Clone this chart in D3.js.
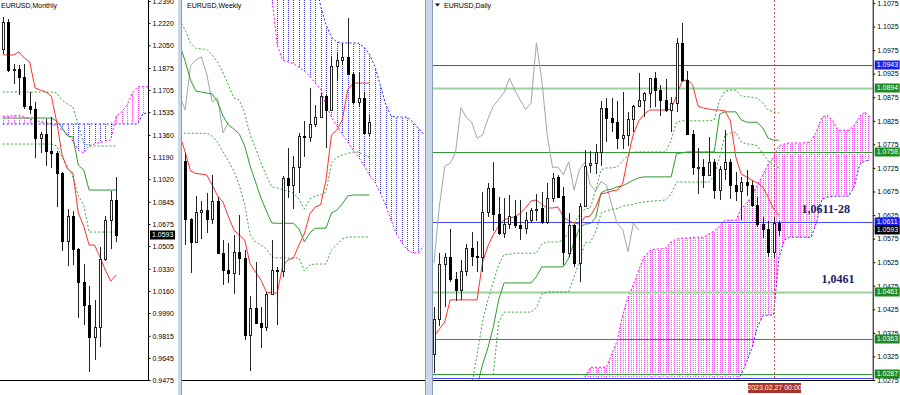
<!DOCTYPE html>
<html>
<head>
<meta charset="utf-8">
<title>EURUSD Monthly / Weekly / Daily</title>
<script src="https://cdn.jsdelivr.net/npm/d3@7"></script>
<style>
  body { margin: 0; background: #fff; }
  svg text { font-family: "Liberation Sans", Arial, sans-serif; font-size: 7px; fill: #000; }
  .note { font-family: "Liberation Serif", "Times New Roman", serif; font-size: 12px; font-weight: bold; fill: #1c1c64; }
</style>
</head>
<body>
<svg id="chart" width="900" height="395"></svg>
<script>
// ---- Monthly, May 2021 .. Feb 2023 (index 0 = May 2021) ----
const monthlyOHLC = [
  [1.2020, 1.2266, 1.1986, 1.2227], [1.2227, 1.2254, 1.1847, 1.1858], [1.1858, 1.1909, 1.1752, 1.1870],
  [1.1870, 1.1900, 1.1664, 1.1807], [1.1807, 1.1909, 1.1563, 1.1579], [1.1579, 1.1692, 1.1524, 1.1558],
  [1.1558, 1.1616, 1.1186, 1.1338], [1.1338, 1.1386, 1.1222, 1.1370], [1.1370, 1.1483, 1.1121, 1.1234],
  [1.1234, 1.1495, 1.1106, 1.1218], [1.1218, 1.1233, 1.0806, 1.1067], [1.1067, 1.1076, 1.0471, 1.0545],
  [1.0545, 1.0787, 1.0349, 1.0733], [1.0733, 1.0774, 1.0359, 1.0484], [1.0484, 1.0487, 0.9952, 1.0226],
  [1.0226, 1.0369, 0.9901, 1.0054], [1.0054, 1.0198, 0.9536, 0.9802], [0.9802, 1.0094, 0.9632, 0.9884],
  [0.9884, 1.0497, 0.9730, 1.0405], [1.0405, 1.0736, 1.0393, 1.0705], [1.0705, 1.0929, 1.0483, 1.0863],
  [1.0863, 1.1033, 1.0533, 1.0593]
];
const monthlyTenkan = [1.1975, 1.1975, 1.1975, 1.1998, 1.1952, 1.1921, 1.1721, 1.1705, 1.1690, 1.1659, 1.1459,
  1.1205, 1.1098, 1.1067, 1.0759, 1.0659, 1.0513, 1.0513, 1.0421, 1.0321, 1.0236, 1.0282];
const monthlyKijun = [1.1490, 1.1490, 1.1490, 1.1490, 1.1490, 1.1490, 1.1490, 1.1490, 1.1490, 1.1490, 1.1467,
  1.1413, 1.1352, 1.1344, 1.1128, 1.1090, 1.0936, 1.0936, 1.0936, 1.0936, 1.0936, 1.0936];
const monthlyDashUp = [1.1690, 1.1690, 1.1690, 1.1690, 1.1690, 1.1690, 1.1690, 1.1690, 1.1690, 1.1690, 1.1682,
  1.1628, 1.1598, 1.1575, 1.1436, 1.1298, 1.1275, 1.1275, 1.1275, 1.1275, 1.1275, 1.1275];
const monthlyDashLow = [1.1290, 1.1290, 1.1290, 1.1290, 1.1290, 1.1290, 1.1290, 1.1290, 1.1290, 1.1290, 1.1275,
  1.1190, 1.1113, 1.1036, 1.0890, 1.0821, 1.0613, 1.0613, 1.0613, 1.0613, 1.0613, 1.0613];
const monthlySpanA = [1.1502, 1.1505, 1.1508, 1.1512, 1.1498, 1.1482, 1.1471, 1.1463, 1.1455, 1.1444, 1.1428,
  1.1398, 1.1367, 1.1313, 1.1244, 1.1221, 1.1275, 1.1290, 1.1302, 1.1313, 1.1321, 1.1505, 1.1536, 1.1590,
  1.1682, 1.1731, 1.1731, 1.1731];
const monthlySpanB = [1.1444, 1.1444, 1.1444, 1.1444, 1.1444, 1.1444, 1.1444, 1.1444, 1.1444, 1.1444, 1.1444,
  1.1444, 1.1444, 1.1444, 1.1444, 1.1444, 1.1444, 1.1444, 1.1444, 1.1444, 1.1444, 1.1444, 1.1444, 1.1444,
  1.1444, 1.1444, 1.1526, 1.1526];
const monthlyPriceTicks = [1.2390, 1.2220, 1.2050, 1.1875, 1.1705, 1.1535, 1.1360, 1.1190, 1.1020, 1.0845,
  1.0675, 1.0505, 1.0330, 1.0160, 0.9990, 0.9815, 0.9645, 0.9475];
const monthlyTickIdx = [-2, 6, 14];
const monthlyTickText = ['1 Mar 2021', '1 Nov 2021', '1 Jul 2022'];

// ---- Weekly, week of 26 Jun 2022 .. 26 Feb 2023 (index 0 = 29 Jan 2023) ----
const weeklyStart = -31;
const weeklyOHLC = [
  [1.0555, 1.0615, 1.0366, 1.0427], [1.0427, 1.0463, 1.0072, 1.0181], [1.0181, 1.0185, 0.9952, 1.0082],
  [1.0082, 1.0279, 1.0080, 1.0212], [1.0212, 1.0258, 1.0097, 1.0220], [1.0220, 1.0293, 1.0123, 1.0182],
  [1.0182, 1.0368, 1.0160, 1.0259], [1.0259, 1.0275, 1.0033, 1.0037], [1.0037, 1.0090, 0.9900, 0.9965],
  [0.9965, 1.0079, 0.9910, 0.9954], [0.9954, 1.0114, 0.9864, 1.0040], [1.0040, 1.0198, 0.9945, 1.0015],
  [1.0015, 1.0051, 0.9668, 0.9689], [0.9689, 0.9853, 0.9536, 0.9802], [0.9802, 0.9999, 0.9737, 0.9740],
  [0.9740, 0.9808, 0.9632, 0.9722], [0.9722, 0.9873, 0.9705, 0.9862], [0.9862, 1.0094, 0.9860, 0.9965],
  [0.9965, 0.9976, 0.9730, 0.9960], [0.9960, 1.0364, 0.9936, 1.0354], [1.0354, 1.0481, 1.0270, 1.0325],
  [1.0325, 1.0449, 1.0223, 1.0400], [1.0400, 1.0545, 1.0290, 1.0535], [1.0535, 1.0595, 1.0443, 1.0530],
  [1.0530, 1.0737, 1.0510, 1.0585], [1.0585, 1.0667, 1.0573, 1.0615], [1.0615, 1.0714, 1.0608, 1.0703],
  [1.0703, 1.0713, 1.0483, 1.0644], [1.0644, 1.0868, 1.0643, 1.0831], [1.0831, 1.0887, 1.0766, 1.0856],
  [1.0856, 1.0929, 1.0834, 1.0869], [1.0869, 1.1033, 1.0796, 1.0796], [1.0796, 1.0805, 1.0669, 1.0678],
  [1.0678, 1.0805, 1.0655, 1.0695], [1.0695, 1.0720, 1.0536, 1.0547], [1.0547, 1.0621, 1.0533, 1.0593]
];
const weeklyTenkan = [1.0538, 1.0466, 1.0385, 1.0374, 1.0372, 1.0368, 1.0325, 1.0279, 1.0253, 1.0190, 1.0135,
  1.0113, 1.0092, 0.9990, 0.9956, 0.9922, 0.9871, 0.9867, 0.9867, 0.9982, 1.0007, 1.0016, 1.0071, 1.0118,
  1.0202, 1.0232, 1.0241, 1.0347, 1.0538, 1.0559, 1.0601, 1.0729, 1.0758, 1.0758, 1.0758, 1.0758];
const weeklyKijun = [1.0920, 1.0852, 1.0771, 1.0724, 1.0720, 1.0716, 1.0712, 1.0678, 1.0618, 1.0580, 1.0563,
  1.0542, 1.0491, 1.0406, 1.0338, 1.0270, 1.0215, 1.0164, 1.0163, 1.0163, 1.0163, 1.0163, 1.0139, 1.0084,
  1.0122, 1.0142, 1.0142, 1.0142, 1.0207, 1.0219, 1.0245, 1.0279, 1.0283, 1.0283, 1.0283, 1.0283];
const weeklyDashUp = [1.1026, 1.0983, 1.0928, 1.0905, 1.0903, 1.0901, 1.0877, 1.0847, 1.0801, 1.0750, 1.0695,
  1.0686, 1.0631, 1.0538, 1.0482, 1.0419, 1.0364, 1.0317, 1.0313, 1.0306, 1.0300, 1.0291, 1.0266, 1.0224,
  1.0266, 1.0279, 1.0283, 1.0296, 1.0419, 1.0444, 1.0453, 1.0460, 1.0465, 1.0465, 1.0453, 1.0444];
const weeklyDashLow = [1.0546, 1.0545, 1.0545, 1.0545, 1.0545, 1.0545, 1.0533, 1.0508, 1.0466, 1.0427, 1.0385,
  1.0325, 1.0241, 1.0113, 1.0084, 1.0071, 1.0054, 1.0020, 1.0016, 1.0016, 1.0016, 1.0016, 1.0016, 0.9961,
  0.9986, 0.9990, 0.9990, 0.9990, 1.0050, 1.0071, 1.0096, 1.0105, 1.0105, 1.0105, 1.0105, 1.0105];
const weeklyCloudStart = -14;
const weeklySpanA = [1.1120, 1.0920, 1.0856, 1.0848, 1.0841, 1.0826, 1.0809, 1.0788, 1.0758, 1.0733, 1.0665,
  1.0614, 1.0576, 1.0542, 1.0508, 1.0474, 1.0444, 1.0410, 1.0368, 1.0338, 1.0292, 1.0241, 1.0177, 1.0118,
  1.0080, 1.0050, 1.0037, 1.0037, 1.0067];
const weeklySpanB = [1.1200, 1.1200, 1.1200, 1.1200, 1.1200, 1.1200, 1.1200, 1.1200, 1.1200, 1.1085, 1.1005,
  1.0954, 1.0932, 1.0928, 1.0928, 1.0928, 1.0927, 1.0911, 1.0881, 1.0831, 1.0750, 1.0669, 1.0618, 1.0614,
  1.0614, 1.0614, 1.0593, 1.0567, 1.0542];
const weeklyTickIdx = [-32, -24, -16, -8, 0];
const weeklyTickText = ['19 Jun 2022', '14 Aug 2022', '9 Oct 2022', '4 Dec 2022', '29 Jan 2023'];

// ---- Daily, 30 Nov 2022 .. 28 Feb 2023 (index 0 = 30 Nov 2022) ----
const dailyOHLC = [
  [1.0330, 1.0429, 1.0290, 1.0405], [1.0405, 1.0545, 1.0390, 1.0522], [1.0522, 1.0545, 1.0429, 1.0535],
  [1.0535, 1.0595, 1.0482, 1.0490], [1.0490, 1.0505, 1.0443, 1.0467], [1.0467, 1.0530, 1.0444, 1.0507],
  [1.0507, 1.0563, 1.0495, 1.0555], [1.0555, 1.0588, 1.0517, 1.0539], [1.0539, 1.0569, 1.0505, 1.0537],
  [1.0537, 1.0673, 1.0505, 1.0631], [1.0631, 1.0694, 1.0621, 1.0682], [1.0682, 1.0737, 1.0592, 1.0627],
  [1.0627, 1.0664, 1.0583, 1.0586], [1.0586, 1.0661, 1.0576, 1.0607], [1.0607, 1.0667, 1.0595, 1.0624],
  [1.0624, 1.0658, 1.0598, 1.0604], [1.0604, 1.0658, 1.0573, 1.0597], [1.0597, 1.0632, 1.0585, 1.0614],
  [1.0614, 1.0640, 1.0608, 1.0636], [1.0636, 1.0670, 1.0612, 1.0638], [1.0639, 1.0675, 1.0607, 1.0611],
  [1.0611, 1.0692, 1.0607, 1.0661], [1.0661, 1.0714, 1.0653, 1.0703], [1.0705, 1.0710, 1.0661, 1.0664],
  [1.0665, 1.0685, 1.0519, 1.0547], [1.0545, 1.0630, 1.0536, 1.0604], [1.0604, 1.0607, 1.0515, 1.0523],
  [1.0523, 1.0650, 1.0483, 1.0644], [1.0644, 1.0763, 1.0644, 1.0729], [1.0731, 1.0762, 1.0714, 1.0735],
  [1.0735, 1.0776, 1.0712, 1.0758], [1.0759, 1.0868, 1.0730, 1.0853], [1.0853, 1.0874, 1.0780, 1.0832],
  [1.0832, 1.0874, 1.0802, 1.0822], [1.0822, 1.0867, 1.0766, 1.0788], [1.0788, 1.0887, 1.0766, 1.0795],
  [1.0795, 1.0843, 1.0771, 1.0829], [1.0829, 1.0858, 1.0802, 1.0856], [1.0856, 1.0927, 1.0856, 1.0870],
  [1.0870, 1.0887, 1.0834, 1.0885], [1.0885, 1.0914, 1.0852, 1.0915], [1.0915, 1.0929, 1.0854, 1.0890],
  [1.0890, 1.0900, 1.0836, 1.0869], [1.0869, 1.0914, 1.0843, 1.0849], [1.0849, 1.0876, 1.0801, 1.0862],
  [1.0862, 1.1000, 1.0844, 1.0990], [1.0990, 1.1033, 1.0908, 1.0912], [1.0912, 1.0930, 1.0796, 1.0796],
  [1.0796, 1.0805, 1.0709, 1.0726], [1.0726, 1.0768, 1.0669, 1.0727], [1.0727, 1.0745, 1.0682, 1.0711],
  [1.0711, 1.0790, 1.0709, 1.0738], [1.0738, 1.0745, 1.0660, 1.0678], [1.0678, 1.0730, 1.0658, 1.0722],
  [1.0722, 1.0805, 1.0700, 1.0737], [1.0737, 1.0745, 1.0660, 1.0689], [1.0689, 1.0717, 1.0655, 1.0676],
  [1.0676, 1.0706, 1.0614, 1.0696], [1.0696, 1.0720, 1.0666, 1.0689], [1.0689, 1.0698, 1.0643, 1.0646],
  [1.0646, 1.0664, 1.0600, 1.0606], [1.0606, 1.0620, 1.0577, 1.0595], [1.0595, 1.0612, 1.0536, 1.0547],
  [1.0547, 1.0621, 1.0533, 1.0608], [1.0608, 1.0612, 1.0580, 1.0593]
];
const dailyTenkan = [1.0368, 1.0383, 1.0398, 1.0445, 1.0445, 1.0445, 1.0445, 1.0445, 1.0445, 1.0525,
  1.0559, 1.0583, 1.0602, 1.0615, 1.0619, 1.0621, 1.0629, 1.0640, 1.0655, 1.0657,
  1.0648, 1.0640, 1.0640, 1.0642, 1.0621, 1.0613, 1.0608, 1.0606, 1.0621, 1.0623,
  1.0642, 1.0670, 1.0672, 1.0676, 1.0678, 1.0691, 1.0748, 1.0797, 1.0825, 1.0839,
  1.0848, 1.0848, 1.0848, 1.0848, 1.0850, 1.0878, 1.0909, 1.0912, 1.0901, 1.0856,
  1.0852, 1.0850, 1.0848, 1.0848, 1.0846, 1.0825, 1.0748, 1.0712, 1.0706, 1.0699,
  1.0693, 1.0685, 1.0663, 1.0638, 1.0625];
const dailyKijun = [null, null, null, null, null, null, null, null, 1.0262, 1.0307,
  1.0343, 1.0387, 1.0445, 1.0481, 1.0481, 1.0481, 1.0481, 1.0481, 1.0481, 1.0494,
  1.0515, 1.0515, 1.0515, 1.0515, 1.0515, 1.0534, 1.0568, 1.0598, 1.0606, 1.0607,
  1.0619, 1.0672, 1.0678, 1.0680, 1.0685, 1.0687, 1.0693, 1.0699, 1.0704, 1.0706,
  1.0706, 1.0706, 1.0706, 1.0706, 1.0706, 1.0755, 1.0757, 1.0759, 1.0759, 1.0759,
  1.0759, 1.0759, 1.0759, 1.0839, 1.0844, 1.0844, 1.0844, 1.0827, 1.0822, 1.0822,
  1.0822, 1.0810, 1.0788, 1.0784, 1.0784];
const dailyDashUp = [null, null, null, null, null, null, null, 1.0265, 1.0328, 1.0398,
  1.0445, 1.0483, 1.0519, 1.0541, 1.0542, 1.0544, 1.0544, 1.0544, 1.0544, 1.0544,
  1.0564, 1.0568, 1.0568, 1.0568, 1.0572, 1.0589, 1.0608, 1.0625, 1.0638, 1.0640,
  1.0678, 1.0721, 1.0725, 1.0725, 1.0727, 1.0740, 1.0752, 1.0759, 1.0759, 1.0759,
  1.0759, 1.0759, 1.0759, 1.0759, 1.0784, 1.0822, 1.0825, 1.0825, 1.0825, 1.0825,
  1.0825, 1.0825, 1.0827, 1.0869, 1.0888, 1.0890, 1.0890, 1.0878, 1.0876, 1.0875,
  1.0873, 1.0863, 1.0848, 1.0844, 1.0842];
const dailyDashLow = [null, null, null, null, null, null, null, null, null, null,
  null, 1.0286, 1.0398, 1.0419, 1.0419, 1.0419, 1.0419, 1.0419, 1.0419, 1.0428,
  1.0457, 1.0462, 1.0462, 1.0462, 1.0462, 1.0462, 1.0494, 1.0527, 1.0566, 1.0567,
  1.0589, 1.0629, 1.0634, 1.0637, 1.0639, 1.0644, 1.0646, 1.0648, 1.0651, 1.0653,
  1.0654, 1.0655, 1.0656, 1.0657, 1.0670, 1.0695, 1.0695, 1.0695, 1.0695, 1.0695,
  1.0695, 1.0695, 1.0708, 1.0748, 1.0795, 1.0799, 1.0801, 1.0780, 1.0776, 1.0775,
  1.0772, 1.0755, 1.0740, 1.0729, 1.0725];
const dailyCloudStart = 28;
const dailySpanA = [1.0281, 1.0302, 1.0302, 1.0302, 1.0302, 1.0330, 1.0358, 1.0413, 1.0451, 1.0477,
  1.0508, 1.0536, 1.0549, 1.0553, 1.0553, 1.0555, 1.0568, 1.0574, 1.0576, 1.0576,
  1.0578, 1.0578, 1.0578, 1.0585, 1.0591, 1.0602, 1.0614, 1.0614, 1.0614, 1.0638,
  1.0651, 1.0665, 1.0689, 1.0710, 1.0733, 1.0748, 1.0772, 1.0776, 1.0778, 1.0778,
  1.0778, 1.0778, 1.0782, 1.0803, 1.0833, 1.0837, 1.0825, 1.0805, 1.0805, 1.0805,
  1.0816, 1.0835, 1.0844, 1.0831];
const dailySpanB = [1.0240, 1.0240, 1.0240, 1.0240, 1.0240, 1.0240, 1.0240, 1.0240, 1.0240, 1.0240,
  1.0240, 1.0240, 1.0240, 1.0240, 1.0240, 1.0240, 1.0240, 1.0240, 1.0240, 1.0240,
  1.0240, 1.0240, 1.0240, 1.0240, 1.0240, 1.0240, 1.0240, 1.0240, 1.0271, 1.0286,
  1.0313, 1.0343, 1.0387, 1.0411, 1.0413, 1.0413, 1.0534, 1.0572, 1.0578, 1.0578,
  1.0578, 1.0578, 1.0578, 1.0610, 1.0659, 1.0663, 1.0665, 1.0665, 1.0665, 1.0665,
  1.0687, 1.0733, 1.0740, 1.0742];
const dailyPriceTicks = [1.1075, 1.1025, 1.0975, 1.0925, 1.0875, 1.0825, 1.0775, 1.0725, 1.0675,
  1.0625, 1.0575, 1.0525, 1.0475, 1.0425, 1.0375, 1.0325, 1.0275];
const dailyTickIdx = [0, 8, 16, 24, 32, 40, 48, 56, 64];
const dailyTickText = ['30 Nov 2022', '12 Dec 2022', '22 Dec 2022', '3 Jan 2023', '13 Jan 2023',
  '25 Jan 2023', '6 Feb 2023', '16 Feb 2023', '28 Feb 2023'];
const dailyLevels = [1.0943, 1.0894, 1.0758, 1.0611, 1.0461, 1.0363, 1.0287, 1.0279];
const dailyLevelKind = ['blue', 'light', 'green', 'blue', 'light', 'green', 'green', 'blue'];
const dailyBoxValues = [1.0943, 1.0894, 1.0758, 1.0611, 1.0593, 1.0461, 1.0363, 1.0287];
const dailyBoxKind = ['blue', 'green', 'green', 'blue', 'black', 'green', 'green', 'green'];
const dailyMarkerIdx = 63;
const dailyMarkerText = '2023.02.27 00:00';
const dailyNotes = [{ text: '1,0611-28', v: 1.0611, i: 68.2 }, { text: '1,0461', v: 1.0461, i: 71.9 }];

// ---- drawing ----
const svg = d3.select('#chart');
const defs = svg.append('defs');
const fmt = d3.format('.4f');
const boxColor = { blue: '#1c1cf0', green: '#1f8a1f', black: '#000' };

function makePanel(name, xDomain, xRange, yDomain, yRange) {
  const x = d3.scaleLinear().domain(xDomain).range(xRange);
  const y = d3.scaleLinear().domain(yDomain).range(yRange);
  defs.append('clipPath').attr('id', 'clip-' + name).append('rect')
    .attr('x', xRange[0]).attr('y', 0).attr('width', xRange[1] - xRange[0]).attr('height', 380);
  const g = svg.append('g').attr('clip-path', `url(#clip-${name})`);
  return { name, x, y, g, left: xRange[0], right: xRange[1] };
}

function drawLine(p, values, start, stroke, dash) {
  const line = d3.line().defined(d => d.v != null).x(d => p.x(d.i)).y(d => p.y(d.v));
  p.g.append('path')
    .datum(values.map((v, k) => ({ i: start + k, v })))
    .attr('d', line)
    .attr('fill', 'none')
    .attr('stroke', stroke)
    .attr('stroke-width', 1)
    .attr('stroke-dasharray', dash || null);
}

// cloud: dotted vertical hatch lines, clipped to the area between span A and span B
function drawCloud(p, spanA, spanB, start, perBar) {
  const pts = spanA.map((a, k) => ({ i: start + k, a, b: spanB[k] }));
  const hatchX = d3.range(0, (spanA.length - 1) * perBar + 1).map(k => start + k / perBar);
  const kinds = [
    { id: 'up', color: '#ff4cff', y0: d => p.y(d.b) },
    { id: 'dn', color: '#3c3cff', y0: d => p.y(d.a) }
  ];
  kinds.forEach(kd => {
    const area = d3.area().x(d => p.x(d.i)).y0(kd.y0).y1(d => p.y(Math.max(d.a, d.b)));
    const cid = `cl-${kd.id}-${p.name}`;
    defs.append('clipPath').attr('id', cid).append('path').attr('d', area(pts));
    p.g.append('g').attr('clip-path', `url(#${cid})`).attr('shape-rendering', 'crispEdges')
      .selectAll('line').data(hatchX).join('line')
      .attr('x1', d => Math.round(p.x(d)) + 0.5).attr('x2', d => Math.round(p.x(d)) + 0.5)
      .attr('y1', 0).attr('y2', 380)
      .attr('stroke', kd.color).attr('stroke-dasharray', '1,1');
  });
  drawLine(p, spanA, start, '#ff00ff', '2,2');
  drawLine(p, spanB, start, '#2020ff', '2,2');
}

function drawCandles(p, ohlc, start) {
  const data = ohlc.map((d, k) => ({ i: start + k, o: d[0], h: d[1], l: d[2], c: d[3] }));
  const cx = d => Math.round(p.x(d.i)) + 0.5;
  const c = p.g.append('g').attr('shape-rendering', 'crispEdges')
    .selectAll('g').data(data).join('g');
  c.append('line')
    .attr('x1', cx).attr('x2', cx)
    .attr('y1', d => Math.round(p.y(d.h))).attr('y2', d => Math.round(p.y(d.l)))
    .attr('stroke', '#222');
  c.append('rect')
    .attr('x', d => cx(d) - 1)
    .attr('width', 2)
    .attr('y', d => Math.round(p.y(Math.max(d.o, d.c))) + 0.5)
    .attr('height', d => Math.max(1, Math.round(p.y(Math.min(d.o, d.c))) - Math.round(p.y(Math.max(d.o, d.c)))))
    .attr('fill', d => d.c >= d.o ? '#fff' : '#000')
    .attr('stroke', d => d.c >= d.o ? '#222' : '#000');
}

function drawDateAxis(p, idx, labels, clipLeft, clipRight) {
  defs.append('clipPath').attr('id', 'dclip-' + p.name).append('rect')
    .attr('x', clipLeft).attr('y', 375).attr('width', clipRight - clipLeft).attr('height', 20);
  const ax = svg.append('g')
    .attr('clip-path', `url(#dclip-${p.name})`)
    .attr('transform', 'translate(0,380.5)')
    .call(d3.axisBottom(p.x).tickValues(idx).tickFormat((d, k) => labels[k]).tickSize(3).tickPadding(1));
  ax.select('.domain').remove();
  ax.selectAll('text').attr('text-anchor', 'start').attr('dx', '-0.5');
  svg.append('line').attr('x1', p.left).attr('x2', p.right + 0.5)
    .attr('y1', 380.5).attr('y2', 380.5).attr('stroke', '#000');
}

function drawPriceAxis(p, ticks) {
  const ax = svg.append('g')
    .attr('transform', `translate(${p.right + 0.5},0)`)
    .call(d3.axisRight(p.y).tickValues(ticks).tickFormat(fmt).tickSize(2).tickPadding(2));
  ax.select('.domain').remove();
  svg.append('line').attr('x1', p.right + 0.5).attr('x2', p.right + 0.5)
    .attr('y1', 0).attr('y2', 380.5).attr('stroke', '#000');
}

function drawBox(p, v, kind) {
  const yy = Math.round(p.y(v));
  svg.append('rect').attr('x', p.right + 2).attr('y', yy - 4.5).attr('width', 25).attr('height', 9)
    .attr('fill', boxColor[kind]);
  svg.append('text').attr('x', p.right + 4).attr('y', yy).attr('dy', '0.34em')
    .style('fill', '#fff').text(fmt(v));
}

// Monthly panel
const pm = makePanel('m', [-0.5, 26.9], [0, 148], [0.9475, 1.2390], [380, 1]);
drawCloud(pm, monthlySpanA, monthlySpanB, 0, 1);
drawLine(pm, monthlyDashUp, 0, '#3aa53a', '2,2');
drawLine(pm, monthlyDashLow, 0, '#3aa53a', '2,2');
drawLine(pm, monthlyKijun, 0, '#2e9a2e');
drawLine(pm, monthlyTenkan, 0, '#ff3030');
drawCandles(pm, monthlyOHLC, 0);
drawPriceAxis(pm, monthlyPriceTicks);
drawDateAxis(pm, monthlyTickIdx, monthlyTickText, 0, 148);
drawBox(pm, monthlyOHLC[monthlyOHLC.length - 1][3], 'black');
svg.append('text').attr('x', 1).attr('y', 8).text('EURUSD,Monthly');

// Weekly panel
const pw = makePanel('w', [-30.6, 14.2], [181.85, 424.66], [0.9536, 1.1033], [371, 18.3]);
drawCloud(pw, weeklySpanA, weeklySpanB, weeklyCloudStart, 1);
const weeklyCloses = weeklyOHLC.map(d => d[3]);
drawLine(pw, weeklyCloses.slice(26), weeklyStart, '#a2a6ac');
drawLine(pw, weeklyDashUp, weeklyStart, '#3aa53a', '2,2');
drawLine(pw, weeklyDashLow, weeklyStart, '#3aa53a', '2,2');
drawLine(pw, weeklyKijun, weeklyStart, '#2e9a2e');
drawLine(pw, weeklyTenkan, weeklyStart, '#ff3030');
drawCandles(pw, weeklyOHLC, weeklyStart);
drawDateAxis(pw, weeklyTickIdx, weeklyTickText, 182, 425);
svg.append('text').attr('x', 187).attr('y', 8).text('EURUSD,Weekly');

// Daily panel
const pd = makePanel('d', [-0.2, 81.4], [432.9, 872.7], [1.0275, 1.1075], [380, 3]);
drawCloud(pd, dailySpanA, dailySpanB, dailyCloudStart, 2);
const levelStyle = {
  blue: { c: '#4646ff', w: 1 },
  green: { c: '#2f9a2f', w: 1 },
  light: { c: '#9ad49a', w: 2 }
};
pd.g.selectAll('line.level').data(dailyLevels).join('line')
  .attr('class', 'level')
  .attr('x1', pd.left).attr('x2', pd.right)
  .attr('y1', d => Math.round(pd.y(d)) + 0.5).attr('y2', d => Math.round(pd.y(d)) + 0.5)
  .attr('stroke', (d, k) => levelStyle[dailyLevelKind[k]].c)
  .attr('stroke-width', (d, k) => levelStyle[dailyLevelKind[k]].w);
const dailyCloses = dailyOHLC.map(d => d[3]);
drawLine(pd, dailyCloses.slice(26), 0, '#a2a6ac');
drawLine(pd, dailyDashUp, 0, '#3aa53a', '2,2');
drawLine(pd, dailyDashLow, 0, '#3aa53a', '2,2');
drawLine(pd, dailyKijun, 0, '#2e9a2e');
drawLine(pd, dailyTenkan, 0, '#ff3030');
const mx = Math.round(pd.x(dailyMarkerIdx)) + 0.5;
pd.g.append('line').attr('x1', mx).attr('x2', mx).attr('y1', 0).attr('y2', 380)
  .attr('stroke', '#e05050').attr('stroke-dasharray', '2,2');
drawCandles(pd, dailyOHLC, 0);
drawPriceAxis(pd, dailyPriceTicks);
drawDateAxis(pd, dailyTickIdx, dailyTickText, 433, 873);
dailyBoxValues.forEach((v, k) => drawBox(pd, v, dailyBoxKind[k]));
svg.append('rect').attr('x', mx - 26.5).attr('y', 383).attr('width', 53).attr('height', 10).attr('fill', '#a8332b');
svg.append('text').attr('x', mx).attr('y', 388).attr('dy', '0.34em').attr('text-anchor', 'middle')
  .style('fill', '#fff').text(dailyMarkerText);
svg.selectAll('text.note').data(dailyNotes).join('text')
  .attr('class', 'note')
  .attr('x', d => pd.x(d.i)).attr('y', d => pd.y(d.v) - 9)
  .text(d => d.text);
svg.append('path').attr('d', 'M435,3.5 L440,3.5 L437.5,6.5 Z').attr('fill', '#000');
svg.append('text').attr('x', 444).attr('y', 8).text('EURUSD,Daily');

// window frames between the charts
[[178, 4], [425, 8]].forEach(([fx, fw]) => {
  svg.append('rect').attr('x', fx).attr('y', 0).attr('width', fw).attr('height', 395).attr('fill', '#cad8ea');
  svg.append('line').attr('x1', fx + fw - 0.5).attr('x2', fx + fw - 0.5).attr('y1', 0).attr('y2', 395)
    .attr('stroke', '#8b9db6');
});
svg.append('line').attr('x1', 425.5).attr('x2', 425.5).attr('y1', 0).attr('y2', 395).attr('stroke', '#8b9db6');
</script>
</body>
</html>
